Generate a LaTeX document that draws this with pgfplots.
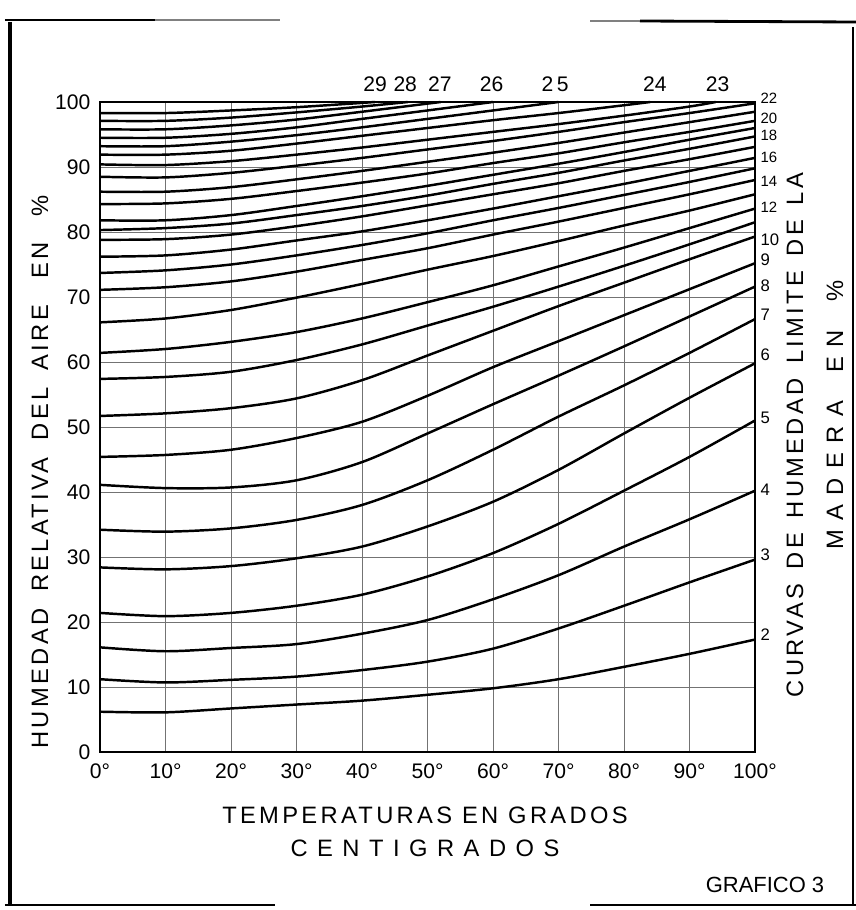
\documentclass[border=0pt]{standalone}
\usepackage{pgfplots}
\pgfplotsset{compat=1.18}
\usepackage{fontspec}
\setmainfont{Liberation Sans}
\newfontfamily\lab[LetterSpace=14]{Liberation Sans}
\newfontfamily\labw[LetterSpace=40]{Liberation Sans}

\begin{document}
\begin{tikzpicture}
\useasboundingbox (-2.0,-3.16) rectangle (15.12,15.04);

% page frame
\draw[line width=2pt] (-1.8,14.6) -- (-1.8,-3.06);
\draw[line width=1.6pt] (-1.9,14.64) -- (1.1,14.64);
\draw[line width=1.6pt, gray] (1.1,14.64) -- (3.6,14.64);
\draw[line width=1.6pt, gray] (9.8,14.62) -- (10.8,14.62);
\draw[line width=1.6pt] (10.8,14.62) -- (15.12,14.6);
\draw[line width=1pt] (15.06,14.5) -- (15.06,-3.06);
\draw[line width=1.4pt] (-1.9,-3.06) -- (3.5,-3.06);
\draw[line width=1pt] (9.8,-3.06) -- (15.12,-3.06);

\begin{axis}[
  at={(0,0)}, anchor=south west,
  scale only axis, width=13.1cm, height=13cm,
  xmin=0, xmax=100, ymin=0, ymax=100,
  xtick={0,10,...,100}, ytick={0,10,...,100},
  xticklabels={0°,10°,20°,30°,40°,50°,60°,70°,80°,90°,100°},
  grid=major, grid style={black!55, line width=0.5pt},
  axis line style={line width=0.8pt},
  major tick length=0pt,
  tick label style={font=\fontsize{12}{14}\selectfont},
  yticklabel style={xshift=-2pt},
  xticklabel style={yshift=-3pt},
  /pgf/number format/assume math mode=true,
  clip=false,
  cycle list={{black,solid}},
  every axis plot/.append style={line width=1.4pt, smooth, no markers},
]
\addplot coordinates {(0,6.2)(10,6.1)(20,6.7)(30,7.3)(40,7.9)(50,8.8)(60,9.8)(70,11.2)(80,13.1)(90,15.1)(100,17.3)};
\addplot coordinates {(0,11.2)(10,10.7)(20,11.1)(30,11.6)(40,12.6)(50,13.9)(60,15.9)(70,19.0)(80,22.5)(90,26.1)(100,29.6)};
\addplot coordinates {(0,16.1)(10,15.5)(20,16.0)(30,16.6)(40,18.2)(50,20.3)(60,23.5)(70,27.2)(80,31.6)(90,35.8)(100,40.2)};
\addplot coordinates {(0,21.4)(10,20.9)(20,21.4)(30,22.5)(40,24.2)(50,27.0)(60,30.6)(70,35.1)(80,40.2)(90,45.4)(100,51.0)};
\addplot coordinates {(0,28.4)(10,28.1)(20,28.6)(30,29.8)(40,31.6)(50,34.7)(60,38.5)(70,43.4)(80,49.0)(90,54.5)(100,59.8)};
\addplot coordinates {(0,34.2)(10,33.9)(20,34.4)(30,35.7)(40,38.0)(50,41.8)(60,46.5)(70,51.6)(80,56.4)(90,61.4)(100,66.6)};
\addplot coordinates {(0,41.1)(10,40.6)(20,40.7)(30,41.8)(40,44.6)(50,49.0)(60,53.5)(70,57.9)(80,62.4)(90,67.0)(100,71.6)};
\addplot coordinates {(0,45.4)(10,45.7)(20,46.5)(30,48.3)(40,50.8)(50,54.8)(60,59.2)(70,63.2)(80,67.2)(90,71.2)(100,75.2)};
\addplot coordinates {(0,51.7)(10,52.1)(20,52.9)(30,54.4)(40,57.2)(50,61.0)(60,64.8)(70,68.6)(80,72.2)(90,75.8)(100,79.3)};
\addplot coordinates {(0,57.4)(10,57.7)(20,58.5)(30,60.3)(40,62.7)(50,65.6)(60,68.5)(70,71.6)(80,74.8)(90,78.1)(100,81.5)};
\addplot coordinates {(0,61.4)(10,62.0)(20,63.1)(30,64.6)(40,66.7)(50,69.2)(60,71.8)(70,74.7)(80,77.6)(90,80.6)(100,83.6)};
\addplot coordinates {(0,66.1)(10,66.7)(20,68.0)(30,69.9)(40,72.0)(50,74.2)(60,76.3)(70,78.6)(80,81.0)(90,83.3)(100,85.8)};
\addplot coordinates {(0,71.1)(10,71.5)(20,72.4)(30,73.9)(40,75.7)(50,77.5)(60,79.6)(70,81.6)(80,83.7)(90,85.8)(100,88.0)};
\addplot coordinates {(0,73.7)(10,74.1)(20,75.0)(30,76.4)(40,78.0)(50,79.8)(60,81.8)(70,83.7)(80,85.7)(90,87.7)(100,89.8)};
\addplot coordinates {(0,76.2)(10,76.4)(20,77.3)(30,78.7)(40,80.1)(50,81.8)(60,83.6)(70,85.5)(80,87.4)(90,89.4)(100,91.4)};
\addplot coordinates {(0,78.8)(10,78.9)(20,79.6)(30,80.9)(40,82.4)(50,84.1)(60,85.8)(70,87.5)(80,89.4)(90,91.2)(100,93.1)};
\addplot coordinates {(0,80.3)(10,80.6)(20,81.3)(30,82.6)(40,84.0)(50,85.6)(60,87.4)(70,89.1)(80,91.0)(90,92.8)(100,94.7)};
\addplot coordinates {(0,81.8)(10,81.8)(20,82.6)(30,84.0)(40,85.5)(50,87.1)(60,88.8)(70,90.5)(80,92.3)(90,94.2)(100,96.0)};
\addplot coordinates {(0,84.3)(10,84.4)(20,85.1)(30,86.3)(40,87.6)(50,89.0)(60,90.6)(70,92.1)(80,93.8)(90,95.4)(100,97.1)};
\addplot coordinates {(0,86.2)(10,86.2)(20,86.9)(30,88.1)(40,89.4)(50,90.8)(60,92.2)(70,93.7)(80,95.3)(90,96.9)(100,98.5)};
\addplot coordinates {(0,88.5)(10,88.4)(20,89.1)(30,90.2)(40,91.4)(50,92.7)(60,94.0)(70,95.4)(80,96.9)(90,98.3)(100,99.8)};
\addplot coordinates {(0,90.4)(10,90.3)(20,90.9)(30,91.9)(40,93.0)(50,94.2)(60,95.4)(70,96.6)(80,97.9)(90,99.3)(94,100)};
\addplot coordinates {(0,91.9)(10,91.9)(20,92.5)(30,93.6)(40,94.8)(50,96.0)(60,97.2)(70,98.3)(80,99.5)(84,100)};
\addplot coordinates {(0,93.2)(10,93.2)(20,93.9)(30,94.9)(40,96.1)(50,97.4)(60,98.7)(70,100)};
\addplot coordinates {(0,94.5)(10,94.5)(20,95.1)(30,96.1)(40,97.4)(50,98.7)(60,100)};
\addplot coordinates {(0,95.8)(10,95.8)(20,96.4)(30,97.3)(40,98.5)(52,100)};
\addplot coordinates {(0,97.1)(10,97.1)(20,97.6)(30,98.4)(40,99.3)(47,100)};
\addplot coordinates {(0,98.3)(10,98.3)(20,98.7)(30,99.2)(42,100)};

% curve labels, right side
\begin{scope}[every node/.style={anchor=west, inner sep=1pt, xshift=2pt, font=\fontsize{9.5}{10}\selectfont}]
\node at (axis cs:100,18.0) {2};
\node at (axis cs:100,30.3) {3};
\node at (axis cs:100,40.3) {4};
\node at (axis cs:100,51.4) {5};
\node at (axis cs:100,61.1) {6};
\node at (axis cs:100,67.2) {7};
\node at (axis cs:100,71.8) {8};
\node at (axis cs:100,75.7) {9};
\node at (axis cs:100,78.8) {10};
\end{scope}
\begin{scope}[every node/.style={anchor=west, inner sep=1pt, xshift=2pt, font=\fontsize{8.5}{9}\selectfont}]
\node at (axis cs:100,83.8) {12};
\node at (axis cs:100,87.8) {14};
\node at (axis cs:100,91.5) {16};
\node at (axis cs:100,94.9) {18};
\node at (axis cs:100,97.5) {20};
\node at (axis cs:100,100.6) {22};
\end{scope}
% curve labels, top
\begin{scope}[every node/.style={inner sep=1pt, font=\fontsize{12}{13}\selectfont}]
\node at (axis cs:42,102.7) {29};
\node at (axis cs:46.6,102.7) {28};
\node at (axis cs:51.9,102.7) {27};
\node at (axis cs:59.8,102.7) {26};
\node at (axis cs:69.5,102.7) {2\,5};
\node at (axis cs:84.7,102.7) {24};
\node at (axis cs:94.3,102.7) {23};
\end{scope}
\end{axis}

% axis titles
\node[rotate=90, font=\lab\fontsize{13.5}{15}\selectfont] at (-1.2,5.6)
  {HUMEDAD\hspace{0.3em} RELATIVA\hspace{0.3em} DEL\hspace{0.3em} AIRE\hspace{1.1em}EN\hspace{1.1em}\%};
\node[rotate=90, font=\lab\fontsize{13.5}{15}\selectfont] at (13.9,6.34)
  {CURVAS\hspace{0.2em} DE\hspace{0.2em} HUMEDAD\hspace{0.2em} LIMITE\hspace{0.2em} DE\hspace{0.2em} LA};
\node[rotate=90, font=\labw\fontsize{13.5}{15}\selectfont] at (14.7,6.74)
  {MADERA\hspace{1.2em}EN\hspace{1.2em}\%};
\node[font=\lab\fontsize{13.5}{15}\selectfont] at (6.5,-1.26) {TEMPERATURAS EN GRADOS};
\node[font=\labw\fontsize{13.5}{15}\selectfont] at (6.5,-1.92) {CENTIGRADOS};
\node[font=\fontsize{12.5}{14}\selectfont] at (13.3,-2.66) {GRAFICO 3};
\end{tikzpicture}
\end{document}
